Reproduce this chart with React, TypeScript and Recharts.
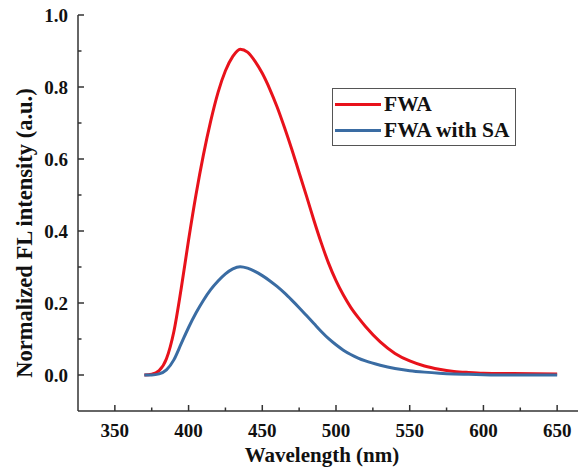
import React from 'react';
import { LineChart, Line, XAxis, YAxis } from 'recharts';

// Emission spectra
const wavelengths = [370, 375, 380, 385, 390, 395, 400, 405, 410, 415, 420, 425, 430, 435, 440, 445, 450, 455, 460, 465, 470, 475, 480, 485, 490, 495, 500, 505, 510, 515, 520, 530, 540, 550, 560, 570, 580, 590, 600, 620, 650];
const fwa = [0.0, 0.002, 0.012, 0.045, 0.12, 0.24, 0.375, 0.5, 0.61, 0.705, 0.785, 0.845, 0.885, 0.905, 0.897, 0.872, 0.838, 0.795, 0.745, 0.688, 0.627, 0.562, 0.497, 0.43, 0.367, 0.31, 0.262, 0.222, 0.188, 0.16, 0.135, 0.092, 0.06, 0.039, 0.025, 0.016, 0.01, 0.007, 0.005, 0.004, 0.003];
const fwaWithSa = [0.0, 0.0, 0.003, 0.014, 0.042, 0.087, 0.132, 0.172, 0.207, 0.237, 0.261, 0.281, 0.295, 0.301, 0.297, 0.288, 0.276, 0.262, 0.246, 0.228, 0.208, 0.187, 0.165, 0.143, 0.121, 0.101, 0.084, 0.069, 0.057, 0.047, 0.039, 0.027, 0.018, 0.012, 0.008, 0.005, 0.003, 0.002, 0.001, 0.0, 0.0];

const xTicks = [350, 375, 400, 425, 450, 475, 500, 525, 550, 575, 600, 625, 650, 675];
const yTicks = [0, 0.1, 0.2, 0.3, 0.4, 0.5, 0.6, 0.7, 0.8, 0.9, 1.0];

const seriesNames = ['FWA', 'FWA with SA'];
const RED = '#e8121b';
const BLUE = '#3a6ca3';
const AXIS = '#333';
const FONT = '"Liberation Serif", "Times New Roman", serif';

const data = wavelengths.map((w, i) => ({ w, fwa: fwa[i], sa: fwaWithSa[i] }));

const XTick = (props: any) => {
  const { x, y, payload } = props;
  const major = payload.value % 50 === 0;
  return (
    <g>
      <line x1={x} x2={x} y1={y} y2={y - (major ? 6 : 3.5)} stroke={AXIS} strokeWidth={1.5} />
      {major && (
        <text x={x} y={y + 26} textAnchor="middle" fontFamily={FONT} fontWeight="bold" fontSize={19} fill="#111">
          {payload.value}
        </text>
      )}
    </g>
  );
};

const YTick = (props: any) => {
  const { x, y, payload } = props;
  const major = Math.round(payload.value * 10) % 2 === 0;
  return (
    <g>
      <line x1={x} x2={x + (major ? 6 : 3.5)} y1={y} y2={y} stroke={AXIS} strokeWidth={1.5} />
      {major && (
        <text x={x - 10} y={y + 7} textAnchor="end" fontFamily={FONT} fontWeight="bold" fontSize={19} fill="#111">
          {payload.value.toFixed(1)}
        </text>
      )}
    </g>
  );
};

const XTitle = (props: any) => {
  const { viewBox } = props;
  const cx = viewBox.x + viewBox.width / 2 - 14;
  return (
    <text x={cx} y={viewBox.y + viewBox.height - 7} textAnchor="middle" fontFamily={FONT} fontWeight="bold" fontSize={21} fill="#111">
      Wavelength (nm)
    </text>
  );
};

const YTitle = (props: any) => {
  const { viewBox } = props;
  const bx = viewBox.x + 24;
  const cy = viewBox.y + viewBox.height / 2 + 20;
  return (
    <text x={bx} y={cy} transform={`rotate(-90 ${bx} ${cy})`} textAnchor="middle" fontFamily={FONT} fontWeight="bold" fontSize={22.5} fill="#111">
      Normalized FL intensity (a.u.)
    </text>
  );
};

const LegendBox = () => (
  <div
    style={{
      position: 'absolute',
      left: 324,
      top: 80,
      border: '1.5px solid #555',
      background: '#fff',
      width: 180,
      padding: '2px 0 2px 2px',
      fontFamily: FONT,
      fontWeight: 'bold',
      fontSize: 21.5,
      color: '#111',
      lineHeight: '26px',
    }}
  >
    {seriesNames.map((name, i) => (
      <div key={name} style={{ display: 'flex', alignItems: 'center', whiteSpace: 'nowrap' }}>
        <span style={{ display: 'inline-block', width: 46, height: 3, background: i === 0 ? RED : BLUE, marginRight: 3 }} />
        {name}
      </div>
    ))}
  </div>
);

export default function App() {
  return (
    <div style={{ width: 578, height: 461, overflow: 'hidden', position: 'relative' }}>
      <LineChart width={620} height={461} data={data} margin={{ top: 7, right: 34, left: 0, bottom: 0 }}>
        <XAxis
          dataKey="w"
          type="number"
          domain={[325, 675]}
          ticks={xTicks}
          interval={0}
          tickSize={0}
          tickMargin={0}
          tick={<XTick />}
          axisLine={{ stroke: AXIS, strokeWidth: 1.5 }}
          tickLine={false}
          height={58}
          label={<XTitle />}
        />
        <XAxis
          xAxisId="top"
          orientation="top"
          dataKey="w"
          type="number"
          domain={[325, 675]}
          tick={false}
          tickLine={false}
          height={0}
          axisLine={{ stroke: AXIS, strokeWidth: 1.5 }}
        />
        <YAxis
          type="number"
          domain={[-0.1, 1.0]}
          ticks={yTicks}
          interval={0}
          tickSize={0}
          tickMargin={0}
          tick={<YTick />}
          axisLine={{ stroke: AXIS, strokeWidth: 1.5 }}
          tickLine={false}
          width={70}
          label={<YTitle />}
        />
        <Line type="monotone" dataKey="fwa" name={seriesNames[0]} stroke={RED} strokeWidth={3} dot={false} isAnimationActive={false} />
        <Line type="monotone" dataKey="sa" name={seriesNames[1]} stroke={BLUE} strokeWidth={3} dot={false} isAnimationActive={false} />
      </LineChart>
      <LegendBox />
    </div>
  );
}
